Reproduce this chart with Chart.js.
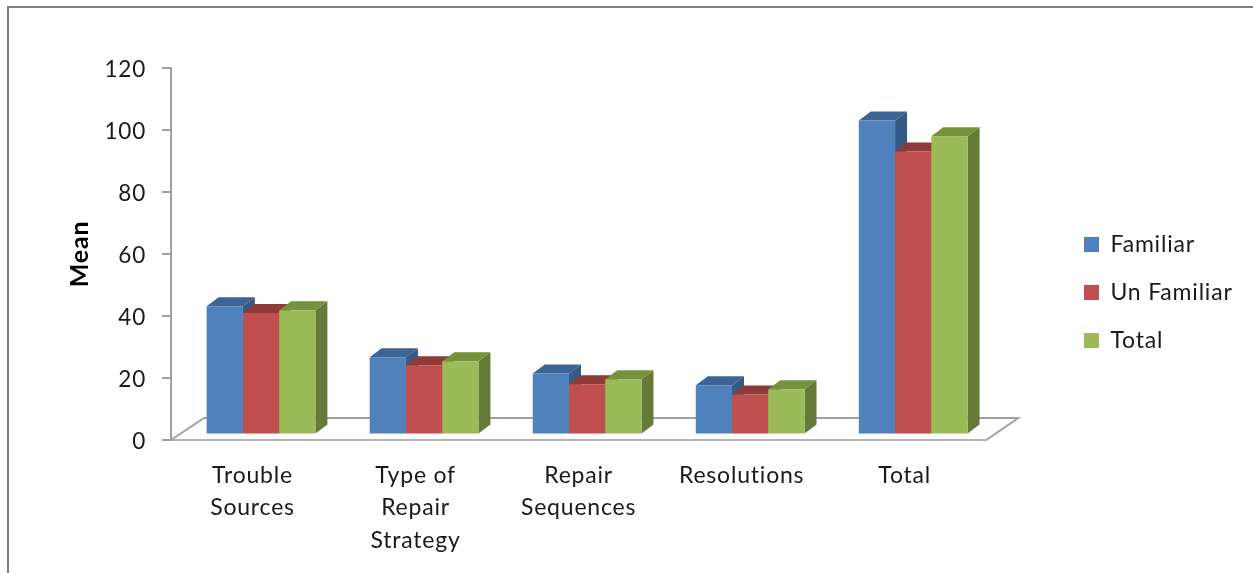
<!DOCTYPE html>
<html>
<head>
<meta charset="utf-8">
<script src="https://cdn.jsdelivr.net/npm/chart.js@4/dist/chart.umd.min.js"></script>
<style>
    html, body { margin: 0; padding: 0; background: #fff; overflow: hidden; }
    #frame { position: absolute; left: 7px; top: 6px; width: 1253px; height: 573px; border: 2px solid #808080; box-sizing: border-box; }
    #meanChart { position: absolute; left: 0; top: 0; }
</style>
</head>
<body>
<div id="frame"></div>
<canvas id="meanChart" width="1253" height="573"></canvas>
<script>
const categories = [['Trouble', 'Sources'], ['Type of', 'Repair', 'Strategy'], ['Repair', 'Sequences'], 'Resolutions', 'Total'];
const familiar = [41.4, 24.9, 19.7, 15.9, 101.3];
const unFamiliar = [39.2, 22.3, 16.2, 12.9, 91.3];
const total = [40.1, 23.6, 17.8, 14.6, 96.2];
const yTicksMax = 120;
const yTicksStep = 20;

const frontColors = ['#4f81bd', '#c0504d', '#9bbb59'];
const topColors = ['#3c6494', '#8e3a38', '#76923c'];
const sideColors = ['#355a86', '#7f3331', '#657a37'];

const fontFamily = 'Lato, "Open Sans", sans-serif';
const axisGrey = '#a0a0a0';

// fake 3d: floor depth and how far the bars sit in from the front edge
const floorDx = 33, floorDy = 22;
const barShiftX = 8.5, barShiftY = 5.5;
const barDepthX = 12, barDepthY = 9;

const depthPlugin = {
    id: 'depth',
    beforeDraw(chart) {
        // the reference text is set a bit wider than Lato
        chart.ctx.letterSpacing = '0.8px';
    },
    beforeDatasetsDraw(chart) {
        const ctx = chart.ctx;
        const { left, right, bottom } = chart.chartArea;

        // floor outline behind the bars
        ctx.save();
        ctx.strokeStyle = axisGrey;
        ctx.lineWidth = 2;
        ctx.beginPath();
        ctx.moveTo(left, bottom);
        ctx.lineTo(left + floorDx, bottom - floorDy);
        ctx.lineTo(right + floorDx - 1, bottom - floorDy);
        ctx.lineTo(right, bottom);
        ctx.stroke();
        ctx.restore();

        // left to right, so each bar covers the side of the one before it
        chart.data.datasets.forEach((dataset, i) => {
            chart.getDatasetMeta(i).data.forEach(bar => {
                const x0 = bar.x - bar.width / 2;
                const x1 = bar.x + bar.width / 2;
                ctx.save();
                ctx.translate(barShiftX, -barShiftY);

                ctx.fillStyle = sideColors[i];
                ctx.beginPath();
                ctx.moveTo(x1, bar.base);
                ctx.lineTo(x1 + barDepthX, bar.base - barDepthY);
                ctx.lineTo(x1 + barDepthX, bar.y - barDepthY);
                ctx.lineTo(x1, bar.y);
                ctx.closePath();
                ctx.fill();

                ctx.fillStyle = topColors[i];
                ctx.beginPath();
                ctx.moveTo(x0, bar.y);
                ctx.lineTo(x0 + barDepthX, bar.y - barDepthY);
                ctx.lineTo(x1 + barDepthX, bar.y - barDepthY);
                ctx.lineTo(x1, bar.y);
                ctx.closePath();
                ctx.fill();

                bar.draw(ctx);
                ctx.restore();
            });
        });
        return false; // bars are already drawn above
    },
    afterLayout(chart) {
        // legend sits further right than the layout would put it
        chart.legend.left = 1059;
        chart.legend.right = 1253;
        chart.legend.top = 208;

        // y tick text sits a little lower than canvas "middle" gives
        const yScale = chart.scales.y;
        const drawLabels = yScale.drawLabels;
        yScale.drawLabels = function (area) {
            chart.ctx.save();
            chart.ctx.translate(-1, 2);
            drawLabels.call(this, area);
            chart.ctx.restore();
        };
    }
};

const ctx = document.getElementById('meanChart').getContext('2d');
const chart = new Chart(ctx, {
    type: 'bar',
    data: {
        labels: categories,
        datasets: [
            { label: 'Familiar', data: familiar, backgroundColor: frontColors[0], borderWidth: 0 },
            { label: 'Un Familiar', data: unFamiliar, backgroundColor: frontColors[1], borderWidth: 0 },
            { label: 'Total', data: total, backgroundColor: frontColors[2], borderWidth: 0 }
        ]
    },
    options: {
        responsive: false,
        animation: false,
        layout: { padding: { left: 65, top: 68, right: 92, bottom: 0 } },
        datasets: { bar: { categoryPercentage: 0.667, barPercentage: 1 } },
        scales: {
            x: {
                afterFit: scale => { scale.height = 133; },
                grid: { display: false, drawTicks: false },
                border: { color: '#b4b4b4', width: 2 },
                ticks: {
                    color: '#1a1a1a', padding: 19, maxRotation: 0, autoSkip: false,
                    font: { family: fontFamily, size: 23, lineHeight: 1.42 }
                }
            },
            y: {
                min: 0, max: yTicksMax,
                afterFit: scale => { scale.width = 106; },
                grid: { drawOnChartArea: false, color: axisGrey, lineWidth: 2, tickLength: 9 },
                border: { color: axisGrey, width: 2 },
                ticks: {
                    stepSize: yTicksStep, color: '#1a1a1a', padding: 15,
                    font: { family: fontFamily, size: 22.5 }
                },
                title: {
                    display: true, text: 'Mean', color: '#000', padding: 0,
                    font: { family: fontFamily, size: 25, weight: 'bold' }
                }
            }
        },
        plugins: {
            tooltip: { enabled: false },
            legend: {
                position: 'right', align: 'start',
                labels: {
                    boxWidth: 15, boxHeight: 15, padding: 25, color: '#1a1a1a',
                    font: { family: fontFamily, size: 23 }
                }
            }
        }
    },
    plugins: [depthPlugin]
});
</script>
</body>
</html>
